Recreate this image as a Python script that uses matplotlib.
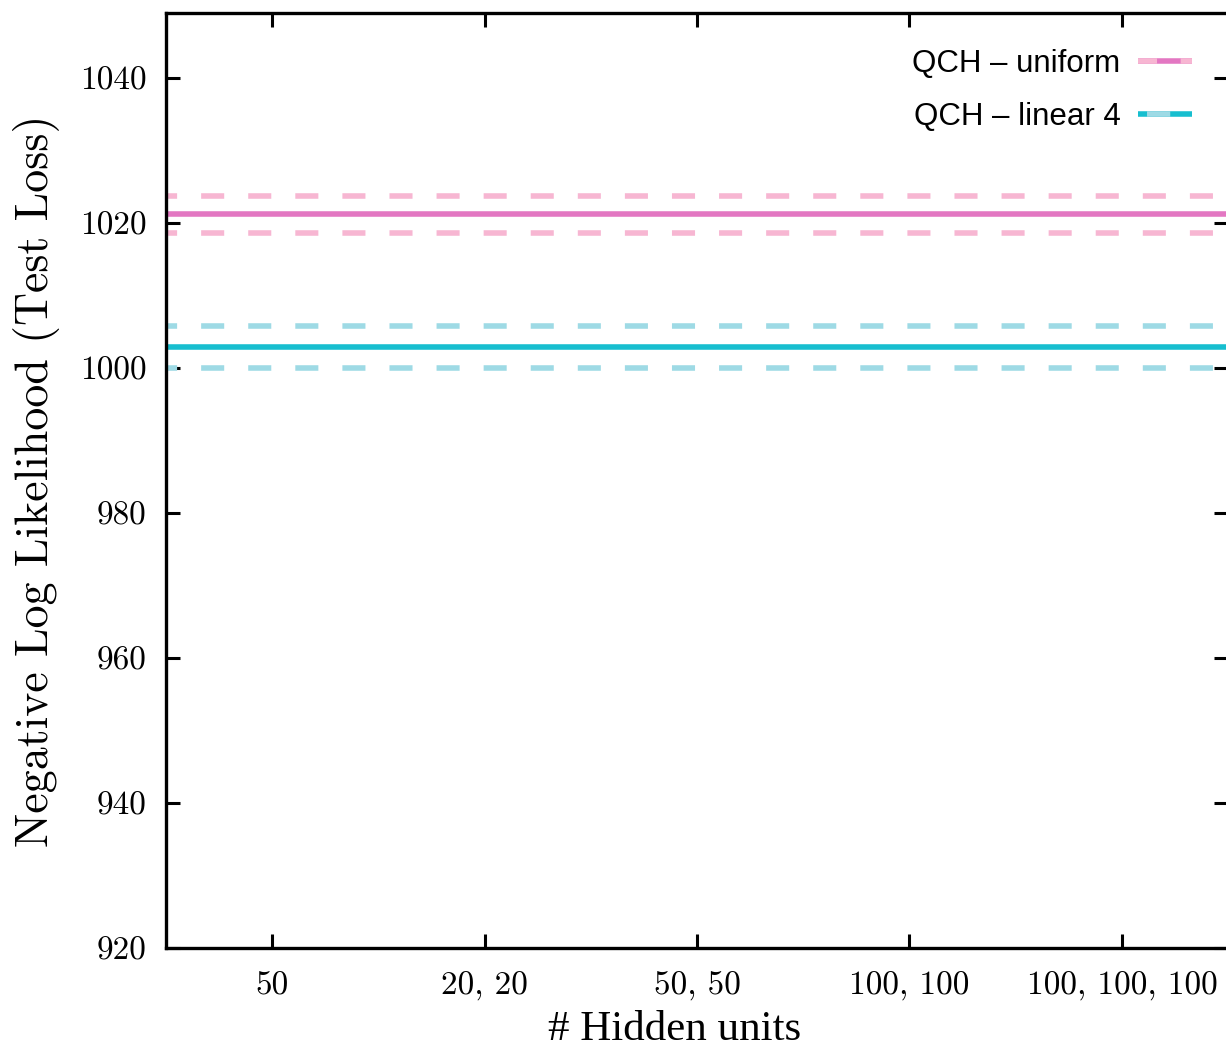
import numpy as np
import matplotlib
matplotlib.use('Agg')
import matplotlib.pyplot as plt
from matplotlib.lines import Line2D
from matplotlib.legend_handler import HandlerTuple

plt.rcParams['lines.scale_dashes'] = False

# data
categories = ['50', '20, 20', '50, 50', '100, 100', '100, 100, 100']
uniform_mean = 1021.3
uniform_lo, uniform_hi = 1018.6, 1023.7
linear4_mean = 1002.9
linear4_lo, linear4_hi = 1000.0, 1005.8
y_ticks = [920, 940, 960, 980, 1000, 1020, 1040]

pink_dark, pink_light = '#e377c2', '#f7b6d2'
cyan_dark, cyan_light = '#17becf', '#9edae5'

fig = plt.figure(figsize=(12.26, 10.5), dpi=100)
ax = fig.add_axes([165.75 / 1226, 1 - 948 / 1050, 1062.5 / 1226, (948 - 13) / 1050])

x = np.arange(len(categories))
xs = [-0.5, len(categories) - 0.5]
dash = (8.6, (16.6, 17.3))
lw = 4

ax.plot(xs, [uniform_hi] * 2, color=pink_light, lw=lw, linestyle=dash)
ax.plot(xs, [uniform_lo] * 2, color=pink_light, lw=lw, linestyle=dash)
ax.plot(xs, [uniform_mean] * 2, color=pink_dark, lw=lw)
ax.plot(xs, [linear4_hi] * 2, color=cyan_light, lw=lw, linestyle=dash)
ax.plot(xs, [linear4_lo] * 2, color=cyan_light, lw=lw, linestyle=dash)
ax.plot(xs, [linear4_mean] * 2, color=cyan_dark, lw=lw)

ax.set_xlim(-0.5, len(categories) - 0.5)
ax.set_ylim(920, 1049)
ax.set_xticks(x)
ax.set_xticklabels(categories, family='cmr10', fontsize=24)
ax.set_yticks(y_ticks)
ax.set_yticklabels([str(v) for v in y_ticks], family='cmr10', fontsize=24)
ax.tick_params(direction='in', length=10, width=2.2, top=True, right=True, pad=14)
ax.tick_params(axis='x', pad=17)
for sp in ax.spines.values():
    sp.set_linewidth(2.4)

ax.set_ylabel('Negative Log Likelihood (Test Loss)', family='cmr10', fontsize=33, labelpad=14)
ax.set_xlabel('# Hidden units', family='Liberation Serif', fontsize=31, labelpad=7)
ax.xaxis.label.set_x((675 - 165.75) / 1062.5)

# legend handles: light dashes over dark solid
h1 = (Line2D([], [], color=pink_dark, lw=lw, solid_capstyle='butt'),
      Line2D([], [], color=pink_light, lw=lw, linestyle=(0, (13.7, 17, 20, 0))))
h2 = (Line2D([], [], color=cyan_dark, lw=lw, solid_capstyle='butt'),
      Line2D([], [], color=cyan_light, lw=lw, linestyle=(0, (0, 6.5, 16.7, 40))))
leg = ax.legend([h1, h2], ['QCH – uniform', 'QCH – linear 4'],
                handler_map={tuple: HandlerTuple(ndivide=1, pad=0)},
                loc='upper right', bbox_to_anchor=(1.0, 1.0),
                frameon=False, markerfirst=False, handlelength=1.75, handletextpad=0.55,
                labelspacing=0.75, borderaxespad=0.75, prop={'family': 'Liberation Sans', 'size': 22.5})

fig.savefig('out.png', dpi=100)
